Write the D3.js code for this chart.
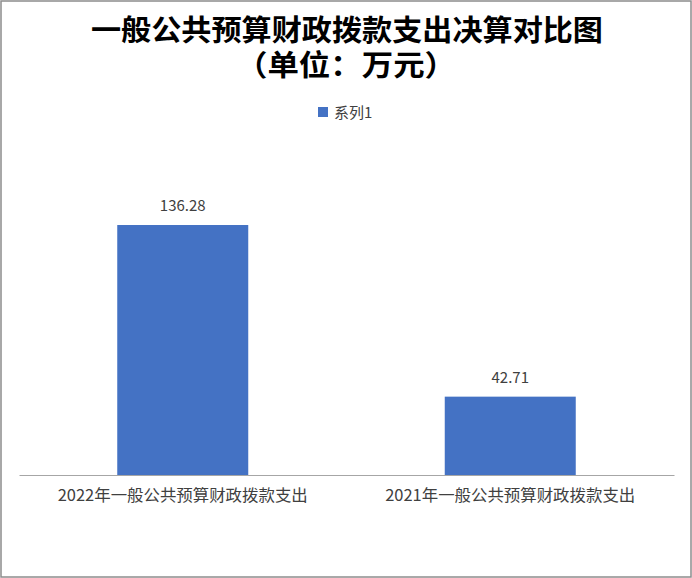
<!DOCTYPE html>
<html>
<head>
<meta charset="utf-8">
<script src="https://cdn.jsdelivr.net/npm/d3@7"></script>
<style>
	body { margin: 0; background: #fff; }
	text { font-family: "Noto Sans CJK SC", "Noto Sans", sans-serif; }
</style>
</head>
<body>
<div id="wrapper"></div>
<script>
const categories = ["2022年一般公共预算财政拨款支出", "2021年一般公共预算财政拨款支出"];
const values = [136.28, 42.71];
const seriesName = "系列1";
const titleLines = ["一般公共预算财政拨款支出决算对比图", "（单位：万元）"];

const drawChart = () => {
	const dimensions = {
		width: 692,
		height: 578,
		margins: { top: 181.5, right: 18, bottom: 103, left: 19 },
	};
	dimensions.boundedWidth =
		dimensions.width - dimensions.margins.left - dimensions.margins.right;
	dimensions.boundedHeight =
		dimensions.height - dimensions.margins.top - dimensions.margins.bottom;

	const svg = d3
		.select("#wrapper")
		.append("svg")
		.attr("width", dimensions.width)
		.attr("height", dimensions.height);

	// chart border
	svg
		.append("rect")
		.attr("x", 1)
		.attr("y", 1)
		.attr("width", dimensions.width - 2)
		.attr("height", dimensions.height - 2)
		.attr("fill", "#fff")
		.attr("stroke", "#8c8c8c")
		.attr("stroke-width", 1.5);

	// title
	const title = svg
		.append("text")
		.attr("text-anchor", "middle")
		.attr("font-size", 29)
		.attr("font-weight", "bold")
		.attr("fill", "#000");
	title
		.append("tspan")
		.attr("x", 347)
		.attr("y", 41)
		.attr("textLength", 512)
		.attr("lengthAdjust", "spacingAndGlyphs")
		.text(titleLines[0]);
	title
		.append("tspan")
		.attr("x", 346)
		.attr("y", 76)
		.attr("textLength", 220)
		.attr("lengthAdjust", "spacingAndGlyphs")
		.text(titleLines[1]);

	// legend
	const legend = svg.append("g").attr("transform", "translate(318, 107)");
	legend
		.append("rect")
		.attr("width", 10)
		.attr("height", 10)
		.attr("fill", "#4472c4");
	legend
		.append("text")
		.attr("x", 16)
		.attr("y", 11)
		.attr("font-size", 15)
		.attr("fill", "#404040")
		.text(seriesName);

	const bounds = svg
		.append("g")
		.attr(
			"transform",
			`translate(${dimensions.margins.left}, ${dimensions.margins.top})`
		);

	const xScale = d3
		.scaleBand()
		.domain(categories)
		.range([0, dimensions.boundedWidth])
		.paddingInner(0.6)
		.paddingOuter(0.3);

	const yScale = d3
		.scaleLinear()
		.domain([0, 160])
		.range([dimensions.boundedHeight, 0]);

	bounds
		.selectAll(".bar")
		.data(values)
		.join("rect")
		.attr("class", "bar")
		.attr("x", (d, i) => xScale(categories[i]))
		.attr("y", (d) => yScale(d))
		.attr("width", xScale.bandwidth())
		.attr("height", (d) => dimensions.boundedHeight - yScale(d))
		.attr("fill", "#4472c4");

	bounds
		.selectAll(".value")
		.data(values)
		.join("text")
		.attr("class", "value")
		.attr("x", (d, i) => xScale(categories[i]) + xScale.bandwidth() / 2)
		.attr("y", (d) => yScale(d) - 14)
		.attr("text-anchor", "middle")
		.attr("font-size", 15)
		.attr("fill", "#404040")
		.text((d) => d);

	const xAxis = bounds
		.append("g")
		.attr("transform", `translate(0, ${dimensions.boundedHeight})`)
		.call(d3.axisBottom(xScale).tickSize(0).tickPadding(0));
	xAxis.select(".domain").attr("stroke", "#a6a6a6").attr("stroke-width", 1.2);
	xAxis
		.selectAll(".tick text")
		.attr("dy", null)
		.attr("y", 26)
		.attr("font-size", 16)
		.attr("font-family", '"Noto Sans CJK SC", sans-serif')
		.attr("fill", "#404040")
		.attr("textLength", 250)
		.attr("lengthAdjust", "spacingAndGlyphs");
};

drawChart();
</script>
</body>
</html>
